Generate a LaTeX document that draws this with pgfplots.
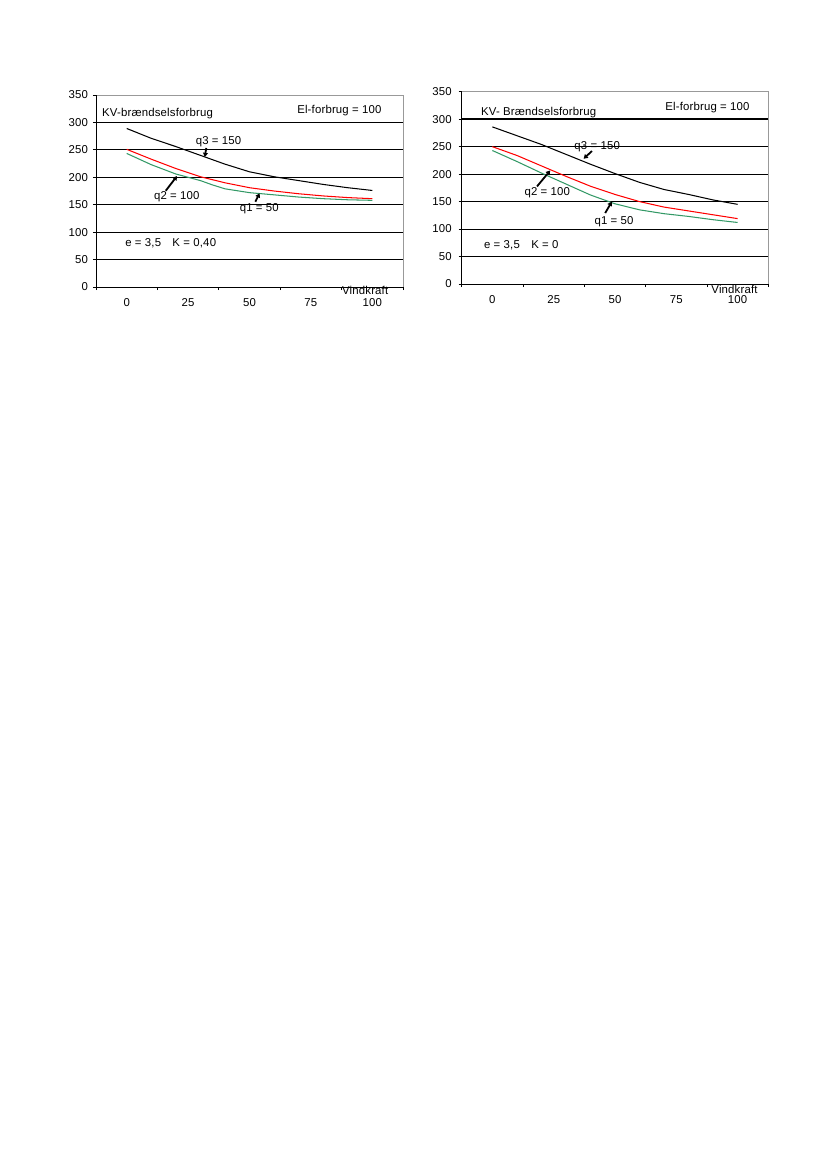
\documentclass[border=0pt]{standalone}
\usepackage{fontspec}
\setmainfont[LetterSpace=1.5]{Liberation Sans}
\usepackage{pgfplots}
\pgfplotsset{compat=1.18}
\usetikzlibrary{arrows.meta}
\definecolor{qgreen}{HTML}{339966}
\newcommand{\cf}{\fontsize{8.2}{9.5}\selectfont}

\pgfplotstableread{
x   y
0   289
10  271
20  256
30  240
40  224
50  210
60  201
70  194
80  187
90  181
100 176
}\leftqthree
\pgfplotstableread{
x   y
0   251
10  233
20  216
30  201
40  190
50  181
60  175
70  170
80  166
90  163
100 161
}\leftqtwo
\pgfplotstableread{
x   y
0   243.5
10  223
20  206
30  194
35  186
40  179
50  172
60  168
70  164
80  161
90  159
100 158
}\leftqone
\pgfplotstableread{
x   y
0   286
10  270
20  254
30  236
40  218
50  201
60  185
70  172
80  163
90  153
100 145
}\rightqthree
\pgfplotstableread{
x   y
0   250
10  234
20  215
30  196
40  178
50  163
60  150
70  140
80  133
90  126
100 119
}\rightqtwo
\pgfplotstableread{
x   y
0   243
10  223
20  202
30  182
40  162
50  146
60  135
70  128
80  123
90  117
100 112
}\rightqone

\pgfplotsset{kvstyle/.style={
  scale only axis,
  clip=false,
  xmin=-12.5, xmax=112.5, ymin=0, ymax=350,
  axis line style={draw=none},
  ytick={0,50,...,350},
  xtick={-12.5,12.5,37.5,62.5,87.5,112.5},
  xticklabels={},
  extra x ticks={0,25,50,75,100},
  extra x tick labels={0,25,50,75,100},
  extra x tick style={major tick length=0pt, xticklabel style={yshift=-5pt}},
  tick align=outside,
  tick pos=left,
  major tick length=2.2pt,
  tick style={black, line width=0.7pt},
  ymajorgrids,
  grid style={black, line width=0.7pt},
  ticklabel style={font=\cf},
  /pgf/number format/assume math mode=true,
  every axis plot/.append style={line width=0.75pt, mark=none},
  after end axis/.code={
    \draw[gray!80, line width=0.7pt] (rel axis cs:0,1) -- (rel axis cs:1,1) -- (rel axis cs:1,0);
    \draw[black, line width=0.7pt] (rel axis cs:0,1) -- (rel axis cs:0,0) -- (rel axis cs:1,0);
  },
}}

\begin{document}
\begin{tikzpicture}[x=1pt,y=1pt]
\useasboundingbox[fill=white] (0,0) rectangle (595.28,841.46);

% Left chart
\begin{axis}[kvstyle,
  at={(69.10pt,634.87pt)}, anchor=south west,
  width=220.98pt, height=138.2pt]
\addplot[black] table[x=x,y=y] {\leftqthree};
\addplot[red] table[x=x,y=y] {\leftqtwo};
\addplot[qgreen] table[x=x,y=y] {\leftqone};
\node[font=\cf, anchor=west, inner sep=0pt] at (axis cs:-10.1,316.6) {KV-brændselsforbrug};
\node[font=\cf] at (axis cs:86.6,321.4) {El-forbrug = 100};
\node[font=\cf, anchor=west, inner sep=0pt] at (axis cs:-0.7,80) {e = 3,5\quad K = 0,40};
\node[font=\cf, anchor=west, inner sep=0pt] at (axis cs:87.6,-6.7) {Vindkraft};
\node[font=\cf] at (axis cs:37.4,264) {q3 = 150};
\draw[line width=1.3pt, -{Triangle[length=3pt,width=3.5pt]}] (axis cs:32.4,253.4) -- (axis cs:31.8,237);
\node[font=\cf] at (axis cs:20.4,164) {q2 = 100};
\draw[line width=1.3pt, -{Triangle[length=3pt,width=3.5pt]}] (axis cs:15.9,175.5) -- (axis cs:20.5,202.3);
\node[font=\cf] at (axis cs:54,142) {q1 = 50};
\draw[line width=1.3pt, -{Triangle[length=3pt,width=3.5pt]}] (axis cs:52.4,155.5) -- (axis cs:54.1,170.8);
\end{axis}

% Right chart
\begin{axis}[kvstyle,
  at={(332.34pt,637.03pt)}, anchor=south west,
  width=220.7pt, height=138.4pt,
  yticklabel style={xshift=-1.5pt}]
\draw[black, line width=1.6pt] (axis cs:-12.5,300) -- (axis cs:112.5,300);
\addplot[black] table[x=x,y=y] {\rightqthree};
\addplot[red] table[x=x,y=y] {\rightqtwo};
\addplot[qgreen] table[x=x,y=y] {\rightqone};
\node[font=\cf, anchor=west, inner sep=0pt] at (axis cs:-4.7,311.8) {KV- Brændselsforbrug};
\node[font=\cf] at (axis cs:87.7,321.6) {El-forbrug = 100};
\node[font=\cf, anchor=west, inner sep=0pt] at (axis cs:-3.5,71) {e = 3,5\quad K = 0};
\node[font=\cf, anchor=west, inner sep=0pt] at (axis cs:89.2,-9.6) {Vindkraft};
\node[font=\cf] at (axis cs:42.7,250.3) {q3 = 150};
\draw[line width=1.3pt, -{Triangle[length=3pt,width=3.5pt]}] (axis cs:40.6,242) -- (axis cs:37.2,228);
\node[font=\cf] at (axis cs:22.4,165.6) {q2 = 100};
\draw[line width=1.3pt, -{Triangle[length=3pt,width=3.5pt]}] (axis cs:18.2,177.6) -- (axis cs:23.6,206.7);
\node[font=\cf] at (axis cs:49.6,113.4) {q1 = 50};
\draw[line width=1.3pt, -{Triangle[length=3pt,width=3.5pt]}] (axis cs:46,129.2) -- (axis cs:48.7,149.8);
\end{axis}
\end{tikzpicture}
\end{document}
